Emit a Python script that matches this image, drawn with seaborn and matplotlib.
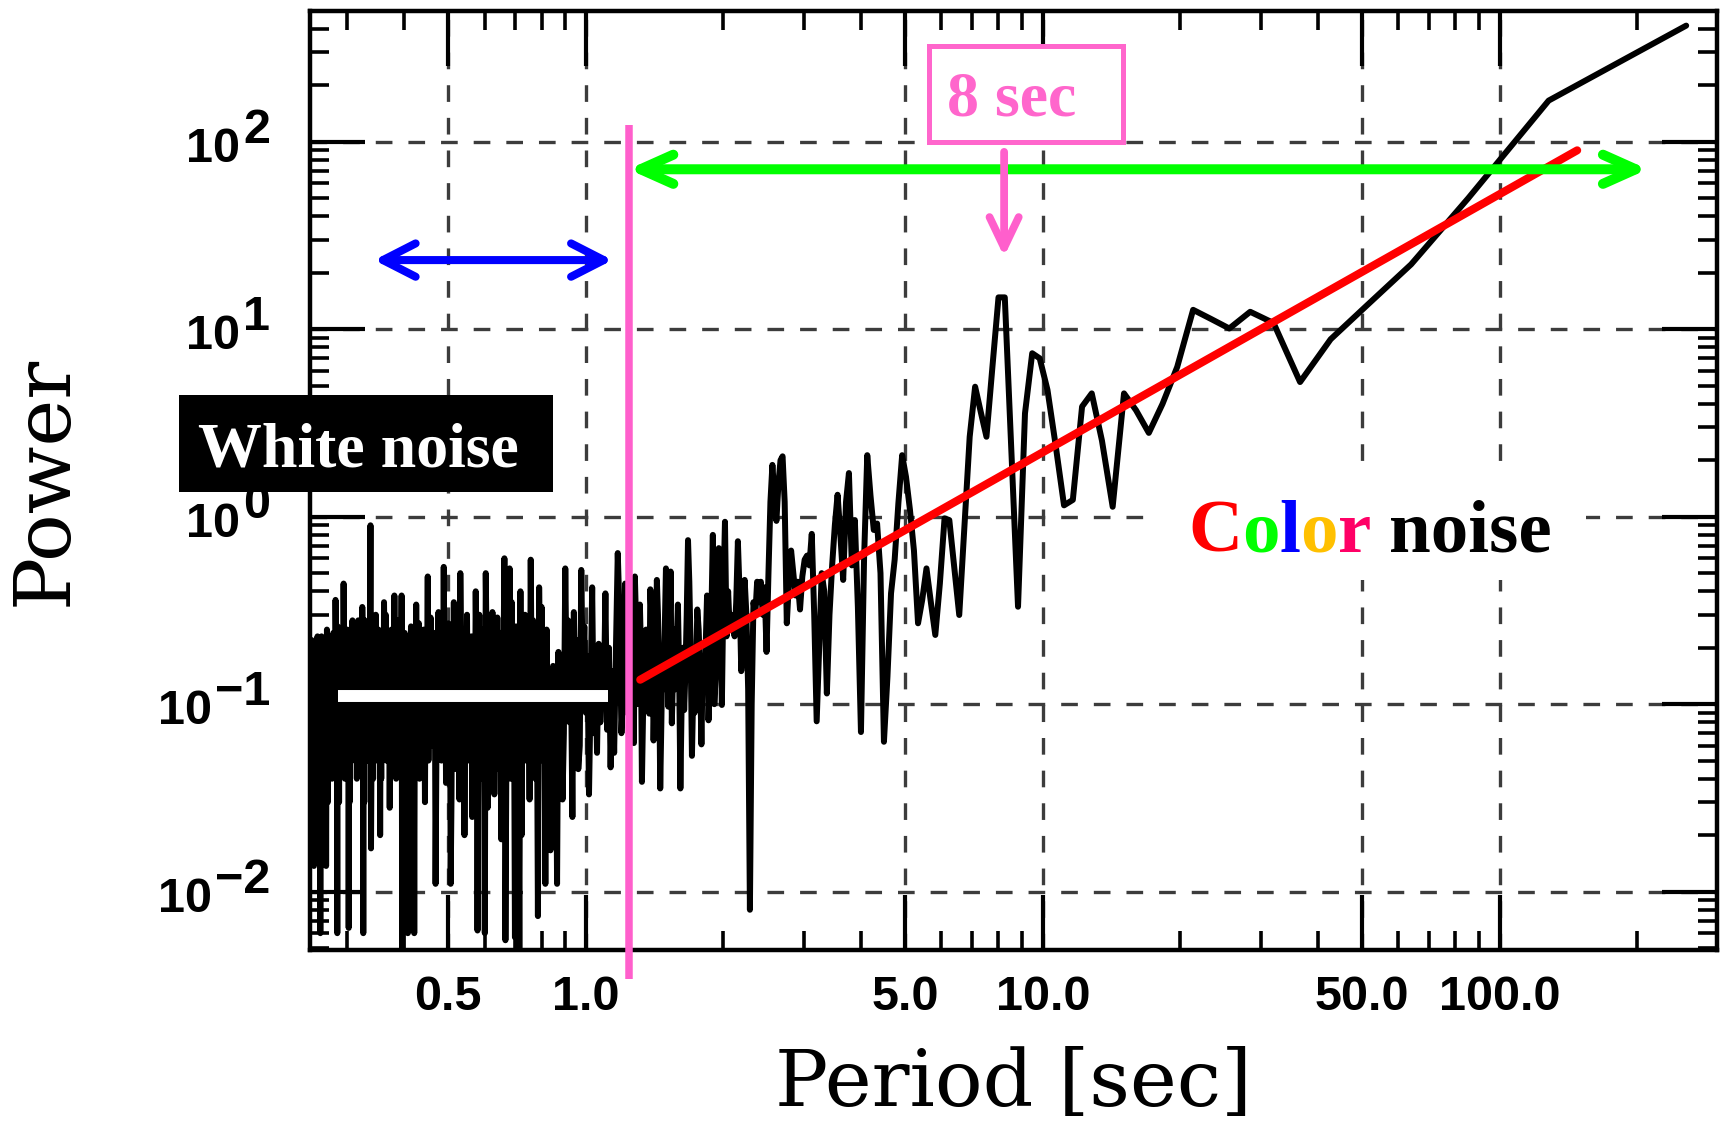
import numpy as np
import pandas as pd
import matplotlib
matplotlib.use("Agg")
import matplotlib.pyplot as plt
import seaborn as sns
from matplotlib.patches import Rectangle, FancyArrowPatch
from matplotlib.offsetbox import TextArea, HPacker, AnnotationBbox
from matplotlib.ticker import FixedLocator, LogLocator, NullFormatter, FormatStrFormatter

# ---------------------------------------------------------------- data
RECORD_S = 256.0          # record length [s]; harmonic k has period RECORD_S / k

# power of harmonics k = 1 .. 205
coarse_power = [
    417, 166, 50, 22.2, 13.4, 8.85, 5.23, 10.8, 12.4, 10.1,
    11.4, 12.7, 6.3, 4.0, 2.8, 3.7, 4.55, 1.13, 2.55, 4.55,
    3.87, 1.23, 1.15, 2.42, 4.75, 7.0, 7.45, 3.56, 0.331, 2.3,
    14.8, 14.8, 6.27, 2.67, 3.63, 4.94, 2.67, 0.88, 0.299, 0.54,
    0.96, 0.98, 0.44, 0.234, 0.35, 0.53, 0.36, 0.27, 0.66, 1.09,
    1.63, 2.13, 1.18, 0.59, 0.39, 0.14, 0.063, 0.5, 0.92, 0.85,
    1.3, 2.13, 0.6, 0.071, 0.33, 0.96, 0.55, 1.71, 1.2, 0.46,
    0.8, 1.31, 0.9, 0.55, 0.3, 0.114, 0.4, 0.5, 0.2, 0.081,
    0.3, 0.81, 0.55, 0.62, 0.59, 0.48, 0.32, 0.45, 0.38, 0.5,
    0.66, 0.45, 0.27, 1.2, 2.1, 2.0, 1.5, 0.95, 1.3, 1.89,
    1.2, 0.5, 0.19, 0.42, 0.3, 0.45, 0.35, 0.45, 0.3, 0.35,
    0.1, 0.008, 0.12, 0.30, 0.46, 0.2, 0.15, 0.4, 0.74, 0.35,
    0.23, 0.28, 0.30, 0.25, 0.4, 0.23, 0.94, 0.4, 0.099, 0.3,
    0.68, 0.25, 0.15, 0.10, 0.80, 0.3, 0.15, 0.082, 0.38, 0.2,
    0.12, 0.18, 0.061, 0.15, 0.25, 0.32, 0.14, 0.09, 0.12, 0.053,
    0.2, 0.45, 0.75, 0.3, 0.15, 0.093, 0.2, 0.1, 0.0355, 0.15,
    0.34, 0.2, 0.12, 0.25, 0.15, 0.079, 0.51, 0.2, 0.097, 0.3,
    0.53, 0.25, 0.12, 0.2, 0.08, 0.0355, 0.15, 0.3, 0.46, 0.2,
    0.12, 0.064, 0.2, 0.3, 0.41, 0.089, 0.2, 0.15, 0.25, 0.12,
    0.18, 0.08, 0.0385, 0.2, 0.34, 0.15, 0.22, 0.1, 0.3, 0.48,
    0.062, 0.2, 0.35, 0.15, 0.28,
]

# power of every second harmonic k = 206, 208, .. 1024
FINE_START = 206
FINE_STEP = 2
fine_power = [
    0.25, 0.09, 0.44, 0.12, 0.07, 0.30, 0.64, 0.20, 0.055, 0.15,
    0.046, 0.20, 0.073, 0.39, 0.10, 0.13, 0.08, 0.21, 0.055, 0.17,
    0.07, 0.42, 0.11, 0.033, 0.18, 0.09, 0.26, 0.14, 0.52, 0.06,
    0.045, 0.22, 0.10, 0.31, 0.025, 0.15, 0.08, 0.28, 0.12, 0.53,
    0.07, 0.031, 0.16, 0.09, 0.19, 0.011, 0.13, 0.12, 0.16, 0.09,
    0.0166, 0.14, 0.06, 0.25, 0.011, 0.18, 0.05, 0.33, 0.10, 0.42,
    0.0074, 0.21, 0.04, 0.16, 0.28, 0.08, 0.59, 0.031, 0.22, 0.12,
    0.05, 0.30, 0.07, 0.18, 0.02, 0.40, 0.0045, 0.15, 0.09, 0.26,
    0.0057, 0.19, 0.11, 0.35, 0.04, 0.53, 0.09, 0.22, 0.06, 0.0055,
    0.60, 0.14, 0.07, 0.019, 0.24, 0.10, 0.045, 0.29, 0.12, 0.08,
    0.033, 0.16, 0.31, 0.09, 0.05, 0.21, 0.13, 0.028, 0.18, 0.50,
    0.006, 0.11, 0.25, 0.07, 0.17, 0.04, 0.30, 0.09, 0.0062, 0.14,
    0.40, 0.06, 0.19, 0.10, 0.025, 0.23, 0.12, 0.08, 0.16, 0.05,
    0.30, 0.09, 0.14, 0.02, 0.21, 0.11, 0.06, 0.18, 0.50, 0.031,
    0.13, 0.08, 0.24, 0.045, 0.16, 0.10, 0.35, 0.07, 0.19, 0.03,
    0.011, 0.20, 0.12, 0.27, 0.06, 0.15, 0.038, 0.22, 0.09, 0.54,
    0.08, 0.17, 0.05, 0.26, 0.13, 0.07, 0.31, 0.10, 0.18, 0.04,
    0.011, 0.15, 0.24, 0.08, 0.19, 0.06, 0.12, 0.29, 0.09, 0.16,
    0.05, 0.48, 0.11, 0.07, 0.21, 0.03, 0.14, 0.25, 0.09, 0.17,
    0.06, 0.20, 0.12, 0.04, 0.27, 0.10, 0.15, 0.08, 0.34, 0.05,
    0.13, 0.006, 0.22, 0.09, 0.16, 0.05, 0.26, 0.11, 0.07, 0.19,
    0.03, 0.006, 0.14, 0.21, 0.08, 0.12, 0.24, 0.06, 0.17, 0.10,
    0.004, 0.38, 0.09, 0.15, 0.05, 0.20, 0.12, 0.28, 0.07, 0.14,
    0.04, 0.22, 0.10, 0.38, 0.08, 0.17, 0.06, 0.13, 0.25, 0.09,
    0.15, 0.028, 0.19, 0.11, 0.07, 0.23, 0.13, 0.05, 0.30, 0.10,
    0.18, 0.35, 0.06, 0.14, 0.09, 0.21, 0.04, 0.12, 0.02, 0.16,
    0.08, 0.25, 0.11, 0.05, 0.19, 0.13, 0.30, 0.07, 0.15, 0.10,
    0.22, 0.04, 0.12, 0.18, 0.06, 0.017, 0.90, 0.14, 0.08, 0.20,
    0.10, 0.05, 0.24, 0.13, 0.07, 0.17, 0.09, 0.28, 0.03, 0.12,
    0.006, 0.19, 0.33, 0.08, 0.15, 0.05, 0.21, 0.11, 0.07, 0.16,
    0.28, 0.09, 0.13, 0.04, 0.20, 0.12, 0.06, 0.17, 0.10, 0.25,
    0.07, 0.14, 0.28, 0.05, 0.18, 0.11, 0.08, 0.22, 0.03, 0.13,
    0.0064, 0.19, 0.10, 0.25, 0.06, 0.15, 0.09, 0.21, 0.04, 0.12,
    0.17, 0.44, 0.07, 0.13, 0.10, 0.23, 0.05, 0.16, 0.08, 0.20,
    0.12, 0.03, 0.18, 0.09, 0.26, 0.006, 0.14, 0.07, 0.21, 0.36,
    0.10, 0.05, 0.17, 0.12, 0.24, 0.08, 0.15, 0.04, 0.19, 0.11,
    0.07, 0.22, 0.13, 0.06, 0.18, 0.09, 0.14, 0.03, 0.20, 0.25,
    0.08, 0.0137, 0.16, 0.11, 0.05, 0.21, 0.12, 0.07, 0.19, 0.10,
    0.15, 0.04, 0.23, 0.09, 0.13, 0.006, 0.18, 0.08, 0.12, 0.20,
    0.06, 0.14, 0.23, 0.10, 0.05, 0.17, 0.09, 0.21, 0.12, 0.07,
    0.16, 0.0137, 0.11, 0.19, 0.08, 0.14, 0.05, 0.22, 0.10, 0.13,
]

# power-law fit of the colour-noise part (end points)
fit_period = [1.315, 147.8]
fit_power = [0.135, 90.1]

# mean white-noise level
white_level_period = [0.287, 1.119]
white_level_power = [0.111, 0.111]

# boundary between white and colour noise
cutoff_period = 1.24
cutoff_span = [0.0034, 123.0]

# period ranges marked by double arrows
white_range = [0.344, 1.144]
white_range_level = 23.4
color_range = [1.239, 211.0]
color_range_level = 71.4

# 8 s oscillation marker
peak_period = 8.23
peak_arrow_span = [88.4, 24.4]

x_ticks = [0.5, 1.0, 5.0, 10.0, 50.0, 100.0]
y_decades = [-2, -1, 0, 1, 2]

harmonic = np.concatenate([np.arange(1, len(coarse_power) + 1),
                           FINE_START + FINE_STEP * np.arange(len(fine_power))])
spectrum = pd.DataFrame({"period": RECORD_S / harmonic,
                         "power": np.array(coarse_power + fine_power, dtype=float)})

# ---------------------------------------------------------------- style
sns.set_theme(style="ticks")
plt.rcParams["font.family"] = ["Liberation Sans", "DejaVu Sans"]
plt.rcParams["lines.scale_dashes"] = False
plt.rcParams["axes.edgecolor"] = "black"
plt.rcParams["xtick.color"] = "black"
plt.rcParams["ytick.color"] = "black"

W, H = 1729, 1124


def fx(px):
    return px / W


def fy(py):
    return 1.0 - py / H


PINK = "#FF5FCC"
GREEN = "#00FF00"
BLUE = "#0000FF"
RED = "#FF0000"

fig = plt.figure(figsize=(W / 100, H / 100), dpi=100)
ax = fig.add_axes([fx(310), fy(950), (1717 - 310) / W, (950 - 11) / H])
ax.set_xscale("log")
ax.set_yscale("log")
ax.set_xlim(0.249, 299)
ax.set_ylim(0.00488, 499)

ax.set_axisbelow(True)
ax.grid(True, which="major", color="#3c3c3c", linewidth=2.4,
        linestyle=(0, (12.0, 11.5)))
ax.grid(False, which="minor")

# spectrum
sns.lineplot(data=spectrum, x="period", y="power", sort=False, estimator=None,
             color="black", linewidth=4.3, ax=ax, solid_joinstyle="round",
             solid_capstyle="round", zorder=3)

# white-noise mean level
ax.plot(white_level_period, white_level_power, color="white", linewidth=8.6,
        solid_capstyle="butt", zorder=4)

# power-law fit
sns.lineplot(x=fit_period, y=fit_power, color=RED, linewidth=5.8, ax=ax,
             estimator=None, sort=False, zorder=5)

# cutoff line
ax.plot([cutoff_period, cutoff_period], cutoff_span, color=PINK,
        linewidth=5.4, solid_capstyle="butt", clip_on=False, zorder=6)

# double arrows
for (x0, x1), level, col, lw, hw in [
        (white_range, white_range_level, BLUE, 5.8, 12.0),
        (color_range, color_range_level, GREEN, 7.2, 10.5)]:
    arr = FancyArrowPatch((x0, level), (x1, level),
                          arrowstyle=f"<->,head_length=23.5,head_width={hw}",
                          mutation_scale=1, color=col, linewidth=lw,
                          capstyle="round", joinstyle="round",
                          shrinkA=0, shrinkB=0, zorder=7)
    ax.add_patch(arr)

# 8 s marker arrow
arr = FancyArrowPatch((peak_period, peak_arrow_span[0]),
                      (peak_period, peak_arrow_span[1]),
                      arrowstyle="->,head_length=22,head_width=10.5",
                      mutation_scale=1, color=PINK, linewidth=5.6,
                      capstyle="round", joinstyle="round",
                      shrinkA=0, shrinkB=0, zorder=7)
ax.add_patch(arr)

# ---------------------------------------------------------------- axes
for side in ["left", "right", "top", "bottom"]:
    ax.spines[side].set_linewidth(3.2)
    ax.spines[side].set_color("black")

ax.xaxis.set_major_locator(FixedLocator(x_ticks))
ax.xaxis.set_major_formatter(FormatStrFormatter("%.1f"))
ax.xaxis.set_minor_locator(LogLocator(base=10, subs=np.arange(2, 10), numticks=30))
ax.xaxis.set_minor_formatter(NullFormatter())
ax.yaxis.set_major_locator(LogLocator(base=10, numticks=30))
ax.yaxis.set_major_formatter(NullFormatter())
ax.yaxis.set_minor_locator(LogLocator(base=10, subs=np.arange(2, 10), numticks=30))
ax.yaxis.set_minor_formatter(NullFormatter())

ax.tick_params(which="both", direction="in", top=True, right=True,
               bottom=True, left=True, color="black")
ax.tick_params(which="major", length=39.5, width=3.0, labelsize=35, pad=18)
ax.tick_params(which="minor", length=13.7, width=2.6)
for lab in ax.get_xticklabels():
    lab.set_fontweight("bold")
    lab.set_fontfamily("Liberation Sans")

ax.set_xlabel("Period [sec]", fontsize=57, fontfamily="DejaVu Serif",
              va="baseline", color="black")
ax.xaxis.set_label_coords(0.5, (950 - 1106) / 939)
ax.set_ylabel("Power", fontsize=57, fontfamily="DejaVu Serif",
              va="center", color="black")
ax.yaxis.set_label_coords((45 - 310) / 1407, 0.5)

# y tick labels: "10" with a full-size exponent
label_kw = dict(fontsize=35, fontweight="bold", fontfamily="Liberation Sans",
                color="black", annotation_clip=False)
exp_texts = []
for e in y_decades:
    t = ax.annotate(str(e).replace("-", "\u2212"), xy=(0, 10.0 ** e),
                    xycoords=("axes fraction", "data"), xytext=(-40, -1),
                    textcoords="offset pixels", ha="right", va="baseline",
                    **label_kw)
    exp_texts.append(t)
fig.canvas.draw()
for e, t in zip(y_decades, exp_texts):
    w = t.get_window_extent().width
    ax.annotate("10", xy=(0, 10.0 ** e), xycoords=("axes fraction", "data"),
                xytext=(-40 - w - 3, -20), textcoords="offset pixels",
                ha="right", va="baseline", **label_kw)

# ---------------------------------------------------------------- annotations
# "White noise" label
fig.add_artist(Rectangle((fx(178.6), fy(492)), (552.7 - 178.6) / W, (492 - 395) / H,
                         transform=fig.transFigure, facecolor="black",
                         edgecolor="none", zorder=2))
fig.text(fx(358.5), fy(466), "White noise", ha="center", va="baseline",
         color="white", fontsize=46, fontweight="bold",
         fontfamily="Liberation Serif", zorder=3)

# "8 sec" label
fig.add_artist(Rectangle((fx(928.5), fy(142)), (1122.5 - 928.5) / W, (142 - 46) / H,
                         transform=fig.transFigure, facecolor="white",
                         edgecolor="#FF66CC", linewidth=3.6, zorder=2))
fig.text(fx(1011.5), fy(116), "8 sec", ha="center", va="baseline",
         color="#FF66CC", fontsize=46, fontweight="bold",
         fontfamily="Liberation Serif", zorder=3)

# "Color noise" label with a multicoloured first word
fig.add_artist(Rectangle((fx(1159), fy(580)), (1586 - 1159) / W, (580 - 468) / H,
                         transform=fig.transFigure, facecolor="white",
                         edgecolor="none", zorder=2))
word_kw = dict(fontsize=54, fontweight="bold", fontfamily="Liberation Serif")
letters = [("C", RED), ("o", GREEN), ("l", BLUE), ("o", "#FFC000"), ("r", "#FF0066")]
colour_word = HPacker(children=[TextArea(ch, textprops=dict(color=c, **word_kw))
                                for ch, c in letters],
                      align="baseline", pad=0, sep=0)
noise_word = TextArea("noise", textprops=dict(color="black", **word_kw))
phrase = HPacker(children=[colour_word, noise_word], align="baseline", pad=0, sep=13)
ab = AnnotationBbox(phrase, (fx(1370), fy(534)), xycoords="figure fraction",
                    frameon=False, box_alignment=(0.5, 0.5), zorder=4)
fig.add_artist(ab)

fig.savefig("out.png", dpi=100)
